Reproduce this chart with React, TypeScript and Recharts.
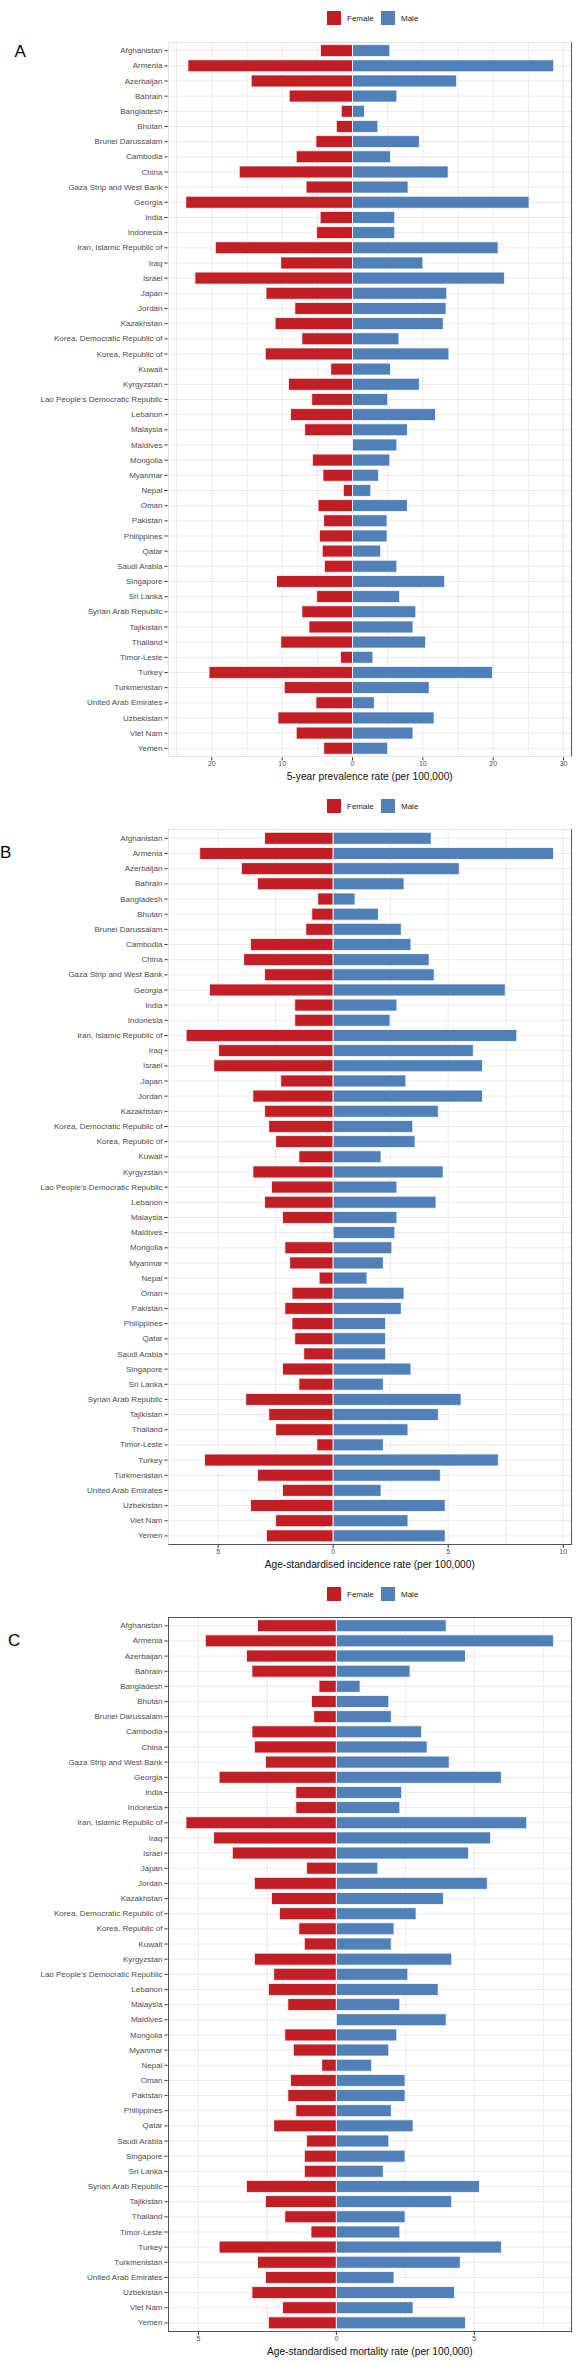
import React from 'react';
import { BarChart, Bar, XAxis, YAxis, CartesianGrid } from 'recharts';

const countries = [
  'Afghanistan', 'Armenia', 'Azerbaijan', 'Bahrain', 'Bangladesh', 'Bhutan', 'Brunei Darussalam', 'Cambodia', 'China',
  'Gaza Strip and West Bank', 'Georgia', 'India', 'Indonesia', 'Iran, Islamic Republic of', 'Iraq', 'Israel', 'Japan',
  'Jordan', 'Kazakhstan', 'Korea, Democratic Republic of', 'Korea, Republic of', 'Kuwait', 'Kyrgyzstan',
  "Lao People's Democratic Republic", 'Lebanon', 'Malaysia', 'Maldives', 'Mongolia', 'Myanmar', 'Nepal', 'Oman',
  'Pakistan', 'Philippines', 'Qatar', 'Saudi Arabia', 'Singapore', 'Sri Lanka', 'Syrian Arab Republic', 'Tajikistan',
  'Thailand', 'Timor-Leste', 'Turkey', 'Turkmenistan', 'United Arab Emirates', 'Uzbekistan', 'Viet Nam', 'Yemen',
];

const prevalenceFemale = [4.56, 23.4, 14.4, 9.0, 1.6, 2.3, 5.2, 8.0, 16.1, 6.6, 23.7, 4.6, 5.1, 19.5, 10.2, 22.4, 12.3, 8.2, 11.0, 7.2, 12.4, 3.1, 9.1, 5.8, 8.8, 6.8, 0, 5.7, 4.2, 1.3, 4.9, 4.1, 4.7, 4.3, 4.0, 10.8, 5.1, 7.2, 6.2, 10.2, 1.7, 20.4, 9.7, 5.2, 10.6, 8.0, 4.1];
const prevalenceMale = [5.3, 28.6, 14.8, 6.3, 1.7, 3.6, 9.5, 5.4, 13.6, 7.9, 25.1, 6.0, 6.0, 20.7, 10.0, 21.6, 13.4, 13.3, 12.9, 6.6, 13.7, 5.4, 9.5, 5.0, 11.8, 7.8, 6.3, 5.3, 3.7, 2.6, 7.8, 4.9, 4.9, 4.0, 6.3, 13.1, 6.7, 9.0, 8.6, 10.4, 2.9, 19.9, 10.9, 3.1, 11.6, 8.6, 5.0];

const incidenceFemale = [2.98, 5.80, 3.99, 3.29, 0.67, 0.93, 1.19, 3.59, 3.89, 2.98, 5.38, 1.67, 1.67, 6.39, 4.98, 5.19, 2.28, 3.49, 2.98, 2.80, 2.50, 1.49, 3.49, 2.68, 2.98, 2.20, 0, 2.10, 1.89, 0.61, 1.79, 2.10, 1.79, 1.67, 1.28, 2.20, 1.49, 3.80, 2.80, 2.50, 0.71, 5.59, 3.29, 2.20, 3.59, 2.50, 2.90];
const incidenceMale = [4.26, 9.58, 5.48, 3.08, 0.95, 1.97, 2.96, 3.38, 4.17, 4.39, 7.48, 2.77, 2.47, 7.98, 6.09, 6.49, 3.16, 6.49, 4.57, 3.46, 3.56, 2.08, 4.78, 2.77, 4.47, 2.77, 2.68, 2.55, 2.18, 1.47, 3.08, 2.96, 2.28, 2.28, 2.28, 3.38, 2.18, 5.56, 4.57, 3.25, 2.18, 7.18, 4.66, 2.08, 4.87, 3.25, 4.87];

const mortalityFemale = [2.86, 4.75, 3.26, 3.06, 0.63, 0.90, 0.82, 3.06, 2.97, 2.57, 4.25, 1.47, 1.47, 5.45, 4.45, 3.77, 1.08, 2.97, 2.35, 2.06, 1.36, 1.16, 2.97, 2.27, 2.46, 1.76, 0, 1.87, 1.56, 0.53, 1.66, 1.76, 1.47, 2.27, 1.08, 1.16, 1.16, 3.26, 2.57, 1.87, 0.92, 4.25, 2.86, 2.57, 3.06, 1.95, 2.46];
const mortalityMale = [3.98, 7.87, 4.68, 2.67, 0.86, 1.90, 1.99, 3.09, 3.29, 4.09, 5.98, 2.37, 2.30, 6.90, 5.59, 4.79, 1.50, 5.47, 3.88, 2.89, 2.09, 1.99, 4.18, 2.59, 3.69, 2.30, 3.98, 2.19, 1.90, 1.28, 2.49, 2.49, 1.99, 2.78, 1.90, 2.49, 1.70, 5.19, 4.18, 2.49, 2.30, 5.98, 4.49, 2.09, 4.28, 2.78, 4.68];

const prevalenceTicks = [-20, -10, 0, 10, 20, 30];
const prevalenceMinor = [-25, -15, -5, 5, 15, 25];
const incidenceTicks = [-5, 0, 5, 10];
const incidenceMinor = [-2.5, 2.5, 7.5];
const mortalityTicks = [-5, 0, 5];
const mortalityMinor = [-2.5, 2.5, 7.5];

const legendLabels = ['Female', 'Male'];

const FEMALE = '#C21E25';
const MALE = '#5180B9';
const FONT = '"Liberation Sans", Arial, Helvetica, sans-serif';
const TEXT_GREY = '#4D4D4D';
const GRID = '#EBEBEB';
const BORDER = '#555555';

const WIDTH = 579;
const Y_AXIS_W = 167.5;
const RIGHT = 7;
const X_AXIS_H = 24;

type PanelProps = {
  letter: string;
  letterX: number;
  letterY: number;
  top: number;
  height: number;
  marginTop: number;
  marginBottom: number;
  legendY: number;
  female: number[];
  male: number[];
  domain: [number, number];
  ticks: number[];
  minor: number[];
  title: string;
  borders: { top: boolean; right: boolean; bottom: boolean; left: boolean };
};

function CountryTick(props: any) {
  const { x, y, payload } = props;
  return (
    <g>
      <text x={x} y={y} dy="0.32em" textAnchor="end" fontSize={8} fill={TEXT_GREY} fontFamily={FONT}>
        {payload?.value}
      </text>
    </g>
  );
}

function Panel(p: PanelProps) {
  const data = countries.map((c, i) => ({ country: c, female: -p.female[i], male: p.male[i] }));
  const plotH = p.height - p.marginTop - p.marginBottom - X_AXIS_H;
  const plotW = WIDTH - Y_AXIS_W - RIGHT;
  const allV = [...p.ticks, ...p.minor];

  const vGen = (props: any) => {
    const s = props?.xAxis?.scale;
    if (typeof s === 'function') {
      const out = allV.map((v) => s(v)).filter((n: any) => typeof n === 'number' && isFinite(n));
      if (out.length) return out;
    }
    const off = props.offset;
    return allV.map((v) => off.left + ((v - p.domain[0]) / (p.domain[1] - p.domain[0])) * off.width);
  };
  const hGen = (props: any) => {
    const s = props?.yAxis?.scale;
    if (typeof s === 'function' && typeof s.bandwidth === 'function') {
      const bw = s.bandwidth();
      const out = countries.map((c) => s(c) + bw / 2).filter((n: any) => typeof n === 'number' && isFinite(n));
      if (out.length) return out;
    }
    const off = props.offset;
    const pad = 1.5;
    const bw = (off.height - 2 * pad) / countries.length;
    return countries.map((_, i) => off.top + pad + (i + 0.5) * bw);
  };

  const dark = (b: boolean) => (b ? `1px solid ${BORDER}` : '1px solid #E4E4E4');

  return (
    <div style={{ position: 'absolute', left: 0, top: p.top, width: WIDTH, height: p.height }}>
      <BarChart
        width={WIDTH}
        height={p.height}
        data={data}
        layout="vertical"
        stackOffset="sign"
        barCategoryGap="10%"
        margin={{ top: p.marginTop, right: RIGHT, bottom: p.marginBottom, left: 0 }}
      >
        <CartesianGrid
          stroke={GRID}
          strokeWidth={1}
          verticalCoordinatesGenerator={vGen}
          horizontalCoordinatesGenerator={hGen}
        />
        <XAxis
          type="number"
          domain={p.domain}
          ticks={p.ticks}
          allowDataOverflow
          height={X_AXIS_H}
          axisLine={false}
          tickSize={3}
          tickMargin={1}
          tickLine={{ stroke: '#333333' }}
          tickFormatter={(v: number) => String(Math.abs(v))}
          tick={{ fontSize: 7, fill: TEXT_GREY, fontFamily: FONT }}
          label={{ value: p.title, position: 'insideBottom', offset: 1, fontSize: 10.2, fill: '#111111', fontFamily: FONT }}
        />
        <YAxis
          type="category"
          dataKey="country"
          width={Y_AXIS_W}
          interval={0}
          axisLine={false}
          tickSize={3}
          tickMargin={2}
          tickLine={{ stroke: '#333333' }}
          padding={{ top: 1.5, bottom: 1.5 }}
          tick={<CountryTick />}
        />
        <Bar dataKey="female" stackId="s" fill={FEMALE} stroke="#FFFFFF" strokeWidth={0.8} isAnimationActive={false} />
        <Bar dataKey="male" stackId="s" fill={MALE} stroke="#FFFFFF" strokeWidth={0.8} isAnimationActive={false} />
      </BarChart>
      <div
        style={{
          position: 'absolute',
          left: Y_AXIS_W,
          top: p.marginTop,
          width: plotW,
          height: plotH,
          boxSizing: 'border-box',
          borderTop: dark(p.borders.top),
          borderRight: dark(p.borders.right),
          borderBottom: dark(p.borders.bottom),
          borderLeft: dark(p.borders.left),
          pointerEvents: 'none',
        }}
      />
      <div
        style={{
          position: 'absolute',
          left: 327,
          top: p.legendY - 7,
          height: 14,
          display: 'flex',
          alignItems: 'center',
          fontFamily: FONT,
          fontSize: 8,
          color: '#222222',
        }}
      >
        <span style={{ width: 14, height: 14, background: FEMALE, display: 'inline-block' }} />
        <span style={{ marginLeft: 6, width: 34, display: 'inline-block' }}>{legendLabels[0]}</span>
        <span style={{ width: 14, height: 14, background: MALE, display: 'inline-block' }} />
        <span style={{ marginLeft: 6, display: 'inline-block' }}>{legendLabels[1]}</span>
      </div>
      <div
        style={{
          position: 'absolute',
          left: p.letterX,
          top: p.letterY - 10,
          height: 20,
          lineHeight: '20px',
          fontFamily: FONT,
          fontSize: 17,
          color: '#000000',
        }}
      >
        {p.letter}
      </div>
    </div>
  );
}

export default function App() {
  return (
    <div style={{ position: 'absolute', left: 0, top: 0, width: WIDTH, height: 2363, background: '#FFFFFF' }}>
      <Panel
        letter="A"
        letterX={14.5}
        letterY={52}
        top={0}
        height={790}
        marginTop={41.6}
        marginBottom={8.6}
        legendY={18.3}
        female={prevalenceFemale}
        male={prevalenceMale}
        domain={[-26.3, 31.2]}
        ticks={prevalenceTicks}
        minor={prevalenceMinor}
        title="5-year prevalence rate (per 100,000)"
        borders={{ top: false, right: true, bottom: false, left: false }}
      />
      <Panel
        letter="B"
        letterX={0}
        letterY={853 - 790}
        top={790}
        height={790}
        marginTop={39.3}
        marginBottom={11}
        legendY={16}
        female={incidenceFemale}
        male={incidenceMale}
        domain={[-7.2, 10.38]}
        ticks={incidenceTicks}
        minor={incidenceMinor}
        title="Age-standardised incidence rate (per 100,000)"
        borders={{ top: false, right: true, bottom: true, left: false }}
      />
      <Panel
        letter="C"
        letterX={8}
        letterY={1641 - 1580}
        top={1580}
        height={783}
        marginTop={36.7}
        marginBottom={7}
        legendY={14}
        female={mortalityFemale}
        male={mortalityMale}
        domain={[-6.12, 8.54]}
        ticks={mortalityTicks}
        minor={mortalityMinor}
        title="Age-standardised mortality rate (per 100,000)"
        borders={{ top: true, right: true, bottom: true, left: true }}
      />
    </div>
  );
}
